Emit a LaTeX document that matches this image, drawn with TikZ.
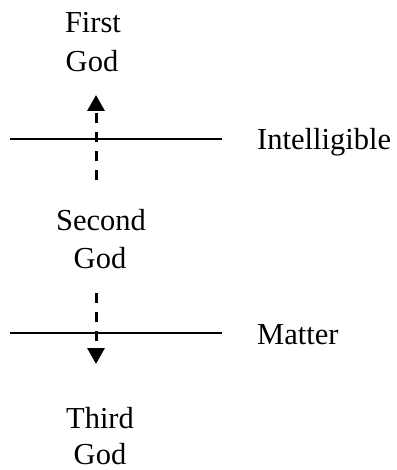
\documentclass[tikz,border=0pt]{standalone}
\usepackage{fontspec}
\setmainfont{Liberation Serif}
\usetikzlibrary{arrows.meta}
\begin{document}
\begin{tikzpicture}[x=1pt,y=-1pt,
  lbl/.style={anchor=base,inner sep=0pt,font=\fontsize{30.5}{36}\selectfont},
  side/.style={lbl,anchor=base west},
  level/.style={line width=2.2pt},
  flow/.style={line width=3pt,dash pattern=on 10pt off 9pt,
    -{Triangle[length=16pt,width=17pt]}}]
\useasboundingbox (0,0) rectangle (396,470);
% texts
\node[lbl] (first) at (93,33) {First};
\node[lbl] (god1) at (92,72) {God};
\node[lbl] (second) at (101,230) {Second};
\node[lbl] (god2) at (100,268) {God};
\node[lbl] (third) at (100,428) {Third};
\node[lbl] (god3) at (100,464) {God};
\node[side] (intel) at (257,150) {Intelligible};
\node[side] (matter) at (257,344) {Matter};
% level lines
\coordinate (l1a) at (10,139);
\coordinate (l1b) at (222,139);
\coordinate (l2a) at (10,333);
\coordinate (l2b) at (222,333);
\draw[level] (l1a) -- (l1b);
\draw[level] (l2a) -- (l2b);
% arrows
\coordinate (u0) at (96,180);
\coordinate (u1) at (96,95);
\coordinate (d0) at (96,293);
\coordinate (d1) at (96,364);
\draw[flow] (u0) -- (u1);
\draw[flow] (d0) -- (d1);
\end{tikzpicture}
\end{document}
